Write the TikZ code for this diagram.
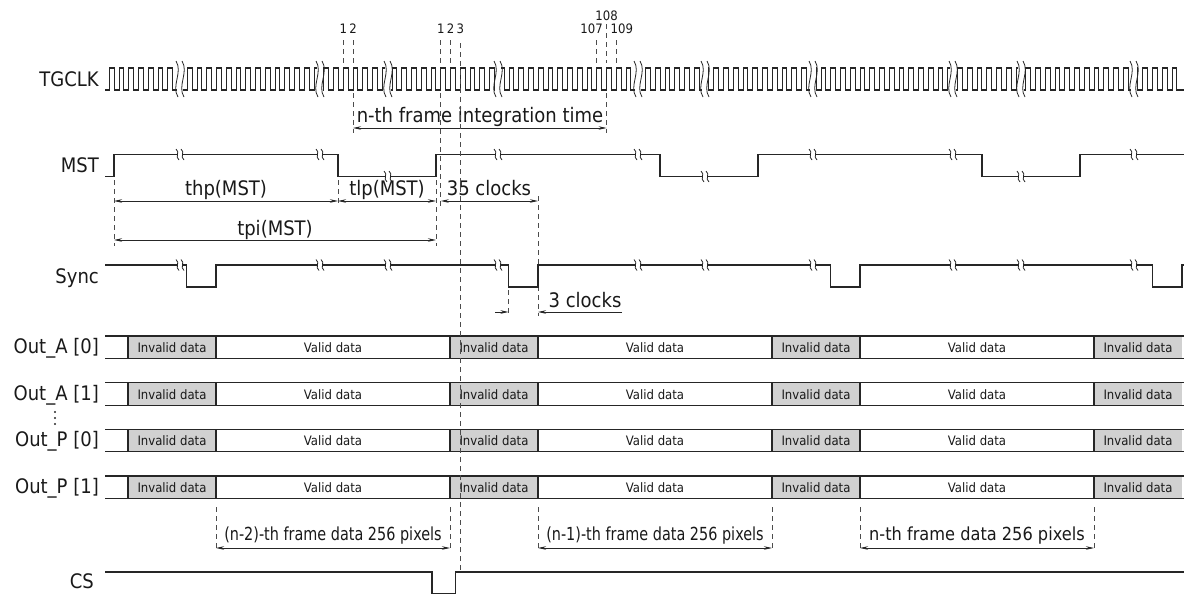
\documentclass[tikz,border=0pt]{standalone}
\usepackage{fontspec}
\setmainfont{DejaVu Sans}[FakeStretch=0.9]
\usepackage{graphicx}
\usetikzlibrary{arrows.meta}
\tikzset{
    % Colors
    ink/.style={black!85},
    invalid fill/.style={fill=black!18},
    %
    % Signals
    sig/.style={ink, line width=1.1pt},
    brk/.style={ink, line width=0.8pt},
    guide/.style={black!70, line width=0.7pt, dash pattern=on 5pt off 4pt},
    %
    % Texts
    siglabel/.style={anchor=base east, inner sep=0pt, text=black!90, font=\fontsize{20}{24}\selectfont},
    dimlabel/.style={anchor=base, inner sep=0pt, text=black!90, font=\fontsize{20}{24}\selectfont},
    framelabel/.style={anchor=base, inner sep=0pt, text=black!90, font=\fontsize{18}{22}\selectfont},
    ticklabel/.style={anchor=base, inner sep=0pt, text=black!90, font=\fontsize{13}{15}\selectfont},
    datalabel/.style={anchor=base, inner sep=0pt, text=black!90, font=\fontsize{13}{15}\selectfont},
    %
    % Arrows
    arrow tip/.tip={Stealth[length=8pt,width=3.5pt]},
    arr/.style={ink, line width=0.7pt, ->, >={arrow tip}},
    darr/.style={ink, line width=0.7pt, <->, >={arrow tip}}
}
% big break on the clock line
\newcommand{\clkbreak}[1]{%
    \fill[white] ({#1-3},62) rectangle ({#1+3},96);
    \foreach \off in {-1,1}
        \draw[brk] ({#1+3*(\off)-1},61) .. controls ({#1+3*(\off)+6},72) and ({#1+3*(\off)-6},86) .. ({#1+3*(\off)+1},97);
}
% small break on a signal line
\newcommand{\sigbreak}[2]{%
    \fill[white] ({#1-2.5},{#2-2}) rectangle ({#1+2.5},{#2+2});
    \foreach \off in {-1,1}
        \draw[brk] ({#1+2.5*(\off)-1.5},{#2-5.5}) .. controls ({#1+2.5*(\off)+3},{#2-2}) and ({#1+2.5*(\off)-3},{#2+2}) .. ({#1+2.5*(\off)+1.5},{#2+5.5});
}

\begin{document}
\begin{tikzpicture}[x=1pt,y=-1pt]
    \useasboundingbox (0,0) rectangle (1184,597);
    %
    % Signal names
    \node[siglabel] (tgclk) at (99,86.3) {TGCLK};
    \node[siglabel] (mst) at (99,172.8) {MST};
    \node[siglabel] (sync) at (99,283.3) {Sync};
    \node[siglabel] (cs) at (94,588) {CS};
    %
    % TGCLK
    \draw[sig] (105,90) \foreach \k in {-24,...,85}{
        -- ({343.3+9.75*(\k)},90) |- ({348.175+9.75*(\k)},68) |- ({353.05+9.75*(\k)},90)
    } -- (1184,90);
    \foreach \b in {180,320,388,498,638,705,813,953,1021,1134}{
        \clkbreak{\b}
    }
    % clock numbers
    \foreach \x in {343.3,353.05,440.8,450.55,596.8,616.3}
        \draw[guide] (\x,40) -- (\x,63);
    \draw[guide] (606.55,24) -- (606.55,63);
    \node[ticklabel] (ta1) at (343.3,34) {1};
    \node[ticklabel] (ta2) at (353.05,34) {2};
    \node[ticklabel] (tb1) at (440.8,34) {1};
    \node[ticklabel] (tb2) at (450.55,34) {2};
    \node[ticklabel] (tb3) at (460.3,34) {3};
    \node[ticklabel, anchor=base east] (t107) at (603,34) {107};
    \node[ticklabel] (t108) at (606.55,20.5) {108};
    \node[ticklabel, anchor=base west] (t109) at (610.5,34) {109};
    %
    % integration time
    \draw[guide] (353.05,93) -- (353.05,133);
    \draw[guide] (606.55,93) -- (606.55,133);
    \draw[guide] (440.8,93) -- (440.8,206);
    \draw[darr] (353.05,128) -- (606.55,128);
    \node[dimlabel] (integ) at (480,122) {n-th frame integration time};
    %
    % MST
    \draw[sig] (105,176.5) \foreach \k in {0,1,2}{
        -- ({114+322*\k},176.5) |- ({338+322*\k},154.5) |- ({436+322*\k},176.5)
    } -- (1080,176.5) |- (1184,154.5);
    \foreach \b/\lvl in {180/154.5,320/154.5,388/176.5,498/154.5,638/154.5,705/176.5,813/154.5,953/154.5,1021/176.5,1134/154.5}{
        \sigbreak{\b}{\lvl}
    }
    \draw[guide] (114,180) -- (114,246);
    \draw[guide] (338,180) -- (338,206);
    \draw[guide] (436,180) -- (436,246);
    \draw[guide] (538,196) -- (538,316);
    \draw[darr] (114,201) -- (338,201);
    \draw[darr] (338,201) -- (436,201);
    \draw[darr] (440.8,201) -- (538,201);
    \draw[darr] (114,240) -- (436,240);
    \node[dimlabel] (thp) at (226,195.5) {thp(MST)};
    \node[dimlabel] (tlp) at (387,195.5) {tlp(MST)};
    \node[dimlabel] (clk35) at (489,195.5) {35 clocks};
    \node[dimlabel] (tpi) at (275,235) {tpi(MST)};
    %
    % Sync
    \draw[sig] (105,265) \foreach \k in {0,...,3}{
        -- ({186.5+322*\k},265) |- ({216+322*\k},287) -- ({216+322*\k},265)
    } -- (1184,265);
    \foreach \b in {180,320,388,498,638,705,813,953,1021,1134}{
        \sigbreak{\b}{265}
    }
    \draw[guide] (508.5,290) -- (508.5,316);
    \draw[arr] (495,312) -- (508.5,312);
    \draw[arr] (622,312) -- (538,312);
    \node[dimlabel] (clk3) at (585,307) {3 clocks};
    %
    % Output data
    \foreach \lbl/\yt [count=\r] in {{Out\_A [0]}/336,{Out\_A [1]}/382.7,{Out\_P [0]}/429.3,{Out\_P [1]}/476}{
        \node[siglabel] (out\r) at (99,\yt+17.5) {\lbl};
        \foreach \k in {0,...,3}{
            \pgfmathsetmacro{\xa}{128+322*\k}
            \pgfmathsetmacro{\xb}{min(\xa+88,1184)}
            \fill[invalid fill] (\xa,\yt) rectangle (\xb,\yt+22.4);
            \node[datalabel] (inv\r\k) at ({(\xa+\xb)/2},\yt+16.3) {Invalid data};
        }
        \foreach \k in {0,1,2}
            \node[datalabel] (val\r\k) at ({333+322*\k},\yt+16.3) {Valid data};
        \draw[sig] (105,\yt) -- (1184,\yt) (105,\yt+22.4) -- (1184,\yt+22.4);
        \foreach \x in {128,216,450,538,772,860,1094}
            \draw[sig] (\x,\yt) -- (\x,\yt+22.4);
    }
    \foreach \yy in {412,418,424}
        \fill[ink] (55,\yy) circle[radius=1.2];
    %
    % frame data
    \foreach \x in {216,450,538,772,860,1094}
        \draw[guide] (\x,507) -- (\x,551);
    \draw[darr] (216,548) -- (450,548);
    \draw[darr] (538,548) -- (772,548);
    \draw[darr] (860,548) -- (1094,548);
    \node[framelabel] (fr2) at (333,540) {\scalebox{0.89}[1]{(n-2)-th frame data 256 pixels}};
    \node[framelabel] (fr1) at (655,540) {\scalebox{0.89}[1]{(n-1)-th frame data 256 pixels}};
    \node[framelabel] (fr0) at (977,540) {n-th frame data 256 pixels};
    %
    % CS
    \draw[sig] (105,572) -- (432,572) |- (455.5,593.5) -- (455.5,572) -- (1184,572);
    %
    % clock 3 line
    \draw[guide] (460.3,43) -- (460.3,572);
\end{tikzpicture}
\end{document}
